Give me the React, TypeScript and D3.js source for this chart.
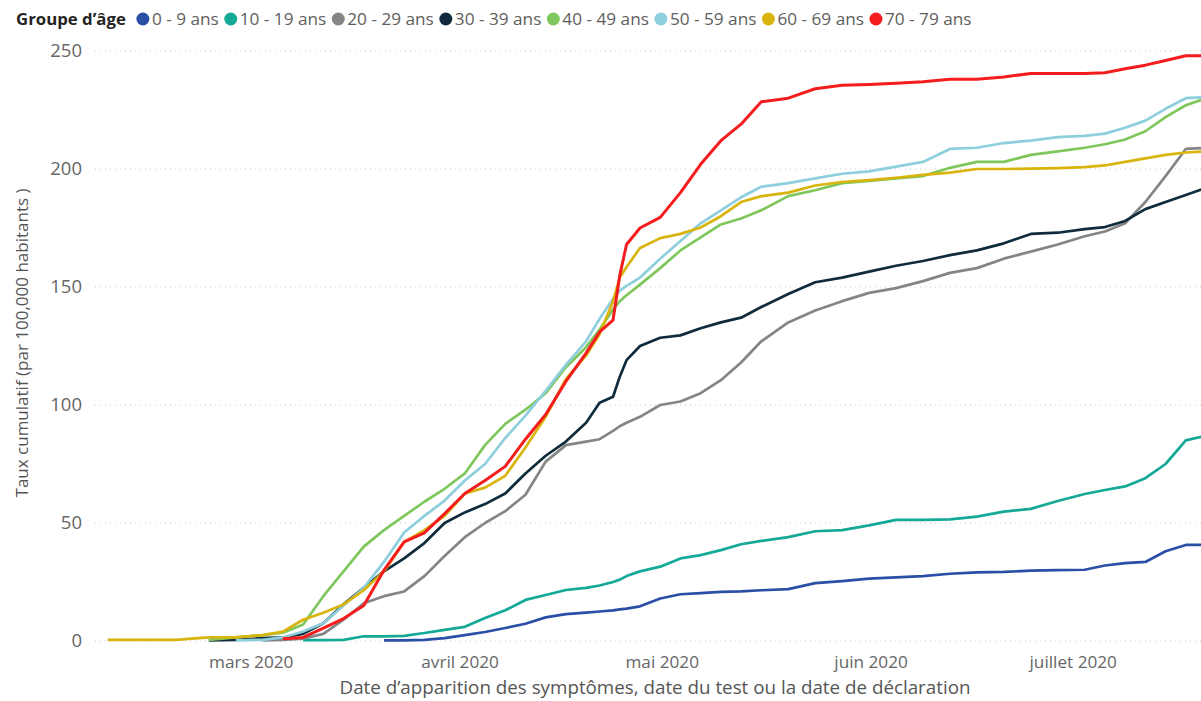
import { useEffect, useRef } from 'react';
import * as d3 from 'd3';

const WIDTH = 1201;
const HEIGHT = 701;
const FONT = "'Segoe UI', 'Open Sans', sans-serif";

// shared date grid (denser around the late-April jump)
const dates = [
  '2020-02-09', '2020-02-14', '2020-02-19', '2020-02-24', '2020-02-28',
  '2020-03-03', '2020-03-06', '2020-03-09', '2020-03-12', '2020-03-15',
  '2020-03-18', '2020-03-21', '2020-03-24', '2020-03-27', '2020-03-30',
  '2020-04-02', '2020-04-05', '2020-04-08', '2020-04-11', '2020-04-14',
  '2020-04-17', '2020-04-20', '2020-04-22', '2020-04-24', '2020-04-25',
  '2020-04-26', '2020-04-28', '2020-05-01', '2020-05-04', '2020-05-07',
  '2020-05-10', '2020-05-13', '2020-05-16', '2020-05-20', '2020-05-24',
  '2020-05-28', '2020-06-01', '2020-06-05', '2020-06-09', '2020-06-13',
  '2020-06-17', '2020-06-21', '2020-06-25', '2020-06-29', '2020-07-03',
  '2020-07-06', '2020-07-09', '2020-07-12', '2020-07-15', '2020-07-18',
  '2020-07-21',
];

const ageGroups = [
  '0 - 9 ans', '10 - 19 ans', '20 - 29 ans', '30 - 39 ans',
  '40 - 49 ans', '50 - 59 ans', '60 - 69 ans', '70 - 79 ans',
];
const colors = [
  '#2b4fa6', '#14a896', '#858585', '#0f2b3c',
  '#7fc75c', '#8dcfdc', '#d8b40c', '#f41c1c',
];

const n = null;
const age0_9 = [n, n, n, n, n, n, n, n, n, n, n,
  0.3, 0.3, 0.5, 1.2, 2.5, 3.8, 5.5, 7.3, 10, 11.4, 12, 12.5, 13, 13.4, 13.7, 14.7,
  18, 19.8, 20.3, 20.8, 21, 21.5, 22, 24.5, 25.4, 26.4, 27, 27.5, 28.5, 29.1, 29.3,
  29.8, 30, 30.2, 32, 33, 33.5, 38, 40.7, 40.7];
const age10_19 = [n, n, n, n, n, n, n,
  0.4, 0.4, 0.5, 2, 2, 2.2, 3.4, 4.7, 6, 9.7, 13, 17.4, 19.5, 21.6, 22.5, 23.5, 25,
  26, 27.5, 29.5, 31.5, 35, 36.4, 38.5, 41, 42.4, 44, 46.5, 47, 49, 51.3, 51.3, 51.5,
  52.7, 54.8, 56, 59.3, 62.3, 64, 65.5, 69, 75, 85, 87];
const age20_29 = [n, n, n, n, n,
  0.3, 0.5, 1, 3, 9, 16, 19, 21, 27.5, 36, 44, 50, 55, 62, 76, 83, 84.5, 85.5, 89,
  91, 92.5, 95, 100, 101.5, 105, 110.5, 118, 127, 135, 140, 144, 147.5, 149.5, 152.5,
  156, 158, 162, 165, 168, 171.5, 173.5, 177, 186, 197, 208.5, 209];
const age30_39 = [n, n, n,
  0.3, 0.5, 1.2, 1.5, 3, 7.5, 15.5, 22.5, 29.5, 35, 41.5, 50, 54.5, 58, 62.5, 71,
  78.5, 84.5, 92.5, 101, 103.5, 112, 119, 125, 128.5, 129.5, 132.5, 135, 137, 141.5,
  147, 152, 154, 156.5, 159, 161, 163.5, 165.5, 168.5, 172.5, 173, 174.5, 175.4,
  178, 183, 186, 189, 192];
const age40_49 = [n, n, n,
  0.5, 1.5, 2.5, 3.5, 7, 19, 29.5, 40, 47, 53, 59, 64.5, 71, 83, 92, 98, 105, 116,
  124.5, 132, 140.5, 144, 146.5, 151, 158, 165.5, 171, 176.5, 179, 182.5, 188.5,
  191, 194, 195, 196, 197, 200.5, 203, 203, 206, 207.5, 209, 210.5, 212.5, 216,
  222, 227, 230];
const age50_59 = [n, n, n, n,
  0.3, 0.5, 1.5, 4, 7.5, 15, 22.5, 33.5, 46, 53, 59.5, 68, 75, 86, 95.5, 106, 117,
  127, 136.5, 145, 148.5, 150.5, 154, 162, 169.5, 177, 182.5, 188, 192.5, 194, 196,
  198, 199, 201, 203, 208.5, 209, 211, 212, 213.5, 214, 215, 217.5, 220.5, 225.5,
  230, 230.5];
const age60_69 = [
  0.5, 0.5, 0.5, 1.5, 1.5, 2.5, 4, 9, 12, 15.5, 21.5, 29.5, 42, 47, 53, 62.5, 65,
  70, 82, 95, 111, 121, 130, 144, 154, 158.5, 166.5, 170.7, 172.5, 175.2, 180, 186,
  188.5, 190, 193, 194.5, 195.3, 196.3, 197.5, 198.5, 200, 200, 200.2, 200.4, 200.8,
  201.5, 203, 204.5, 206, 207, 207.5];
const age70_79 = [n, n, n, n, n, n,
  1, 1.5, 5.5, 9.5, 15, 30, 42, 45.8, 54, 62.5, 68, 74, 85.5, 96, 110, 122, 131,
  136, 155, 168, 175, 179.5, 190, 202, 212, 219, 228.5, 230, 234, 235.5, 235.8,
  236.3, 237, 238, 238, 239, 240.5, 240.5, 240.5, 240.8, 242.5, 244, 246, 248, 248];

const seriesValues = [age0_9, age10_19, age20_29, age30_39, age40_49, age50_59, age60_69, age70_79];

const yTicks = [0, 50, 100, 150, 200, 250];
const monthTicks = ['2020-03-01', '2020-04-01', '2020-05-01', '2020-06-01', '2020-07-01'];
const monthLabels = ['mars 2020', 'avril 2020', 'mai 2020', 'juin 2020', 'juillet 2020'];

export default function App() {
  const ref = useRef<SVGSVGElement>(null);

  useEffect(() => {
    document.body.style.margin = '0';
    const svg = d3.select(ref.current);
    svg.selectAll('*').remove();

    const parse = d3.timeParse('%Y-%m-%d');
    const x = d3
      .scaleTime()
      .domain([parse('2020-02-09')!, parse('2020-07-21')!])
      .range([107.7, 1206]);
    const y = d3.scaleLinear().domain([0, 250]).range([641, 51]);

    // grid
    svg.append('g')
      .selectAll('line')
      .data(yTicks)
      .join('line')
      .attr('x1', 95)
      .attr('x2', WIDTH)
      .attr('y1', (d) => y(d))
      .attr('y2', (d) => y(d))
      .attr('stroke', '#c8c8c8')
      .attr('stroke-width', 1)
      .attr('stroke-dasharray', '1 4');

    // y tick labels
    svg.append('g')
      .selectAll('text')
      .data(yTicks)
      .join('text')
      .attr('x', 82)
      .attr('y', (d) => y(d))
      .attr('dy', '0.35em')
      .attr('text-anchor', 'end')
      .attr('font-family', FONT)
      .attr('font-size', 18.5)
      .attr('fill', '#666')
      .text((d) => d);

    // x tick labels
    svg.append('g')
      .selectAll('text')
      .data(monthTicks)
      .join('text')
      .attr('x', (d) => x(parse(d)!) + 2)
      .attr('y', 668)
      .attr('text-anchor', 'middle')
      .attr('font-family', FONT)
      .attr('font-size', 17.2)
      .attr('fill', '#666')
      .text((_, i) => monthLabels[i]);

    // axis titles
    svg.append('text')
      .attr('x', 655)
      .attr('y', 694)
      .attr('text-anchor', 'middle')
      .attr('font-family', FONT)
      .attr('font-size', 18.8)
      .attr('fill', '#555')
      .text('Date d\u2019apparition des symptômes, date du test ou la date de déclaration');

    svg.append('text')
      .attr('transform', 'translate(28,343) rotate(-90)')
      .attr('text-anchor', 'middle')
      .attr('font-family', FONT)
      .attr('font-size', 17)
      .attr('fill', '#555')
      .text('Taux cumulatif (par 100,000 habitants )');

    // lines
    const line = d3
      .line<number | null>()
      .defined((d) => d != null)
      .x((_, i) => x(parse(dates[i])!))
      .y((d) => y(d as number));

    svg.append('g')
      .selectAll('path')
      .data(seriesValues)
      .join('path')
      .attr('d', (d) => line(d))
      .attr('fill', 'none')
      .attr('stroke', (_, i) => colors[i])
      .attr('stroke-width', (_, i) => (i === 7 ? 3 : 2.7))
      .attr('stroke-linejoin', 'round');

    // legend
    const legend = svg.append('g').attr('transform', 'translate(16,19)');
    const title = legend.append('text')
      .attr('x', 0)
      .attr('dy', '0.35em')
      .attr('font-family', FONT)
      .attr('font-size', 16.8)
      .attr('font-weight', 'bold')
      .attr('fill', '#252423')
      .text('Groupe d\u2019âge');
    let cx = (title.node() as SVGTextElement).getComputedTextLength() + 17;
    ageGroups.forEach((g, i) => {
      legend.append('circle')
        .attr('cx', cx)
        .attr('cy', 0)
        .attr('r', 6.5)
        .attr('fill', colors[i]);
      const t = legend.append('text')
        .attr('x', cx + 9)
        .attr('dy', '0.35em')
        .attr('font-family', FONT)
        .attr('font-size', 17.2)
        .attr('fill', '#605e5c')
        .text(g);
      cx += 9 + (t.node() as SVGTextElement).getComputedTextLength() + 12;
    });
  }, []);

  return (
    <div style={{ position: 'absolute', left: 0, top: 0 }}>
      <svg ref={ref} width={WIDTH} height={HEIGHT} style={{ display: 'block', background: '#fff' }} />
    </div>
  );
}
